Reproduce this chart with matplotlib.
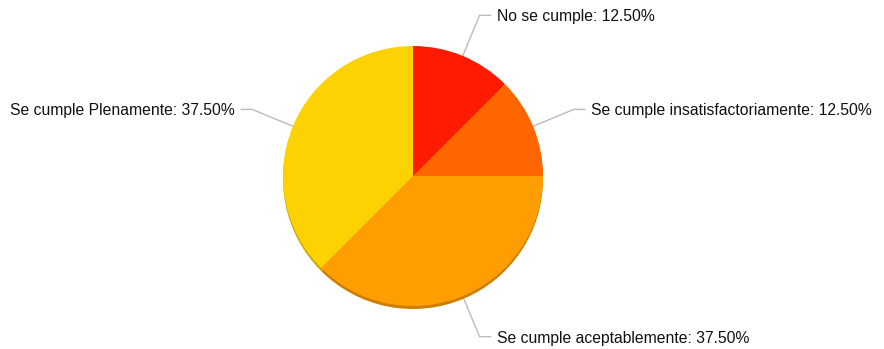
import numpy as np
import matplotlib.pyplot as plt

categories = ['No se cumple', 'Se cumple insatisfactoriamente',
              'Se cumple aceptablemente', 'Se cumple Plenamente']
values = [12.5, 12.5, 37.5, 37.5]
colors = ['#FF1A00', '#FF6600', '#FF9E01', '#FCD202']
shadow = ['#CC1500', '#CC5200', '#CC7E01', '#CAA802']

plt.rcParams['font.family'] = ['Liberation Sans', 'DejaVu Sans']

fig = plt.figure(figsize=(8.84, 3.49), dpi=100)
ax = fig.add_axes([0, 0, 1, 1])

cx, cy, r = 413, 173, 130

# dark rim under the pie
ax.pie(values, colors=shadow, startangle=90, counterclock=False,
       center=(cx, cy - 3), radius=r, wedgeprops=dict(linewidth=0))
wedges, _ = ax.pie(values, colors=colors, startangle=90, counterclock=False,
                   center=(cx, cy), radius=r, wedgeprops=dict(linewidth=0))

for w, cat, v in zip(wedges, categories, values):
    ang = np.deg2rad((w.theta1 + w.theta2) / 2)
    x0, y0 = cx + r * np.cos(ang), cy + r * np.sin(ang)
    x1, y1 = cx + (r + 44) * np.cos(ang), cy + (r + 44) * np.sin(ang)
    side = 1 if np.cos(ang) >= 0 else -1
    x2 = x1 + 11 * side
    ax.plot([x0, x1, x2], [y0, y1, y1], color='#BBBBBB', lw=1, zorder=0)
    ax.text(x2 + 6 * side, y1 - 1.5, f'{cat}: {v:.2f}%', fontsize=11.3,
            color='#111111', va='center',
            ha='left' if side > 0 else 'right')

ax.set_xlim(0, 884)
ax.set_ylim(0, 349)
ax.set_aspect('auto')
ax.axis('off')
fig.savefig('out.png', dpi=100)
